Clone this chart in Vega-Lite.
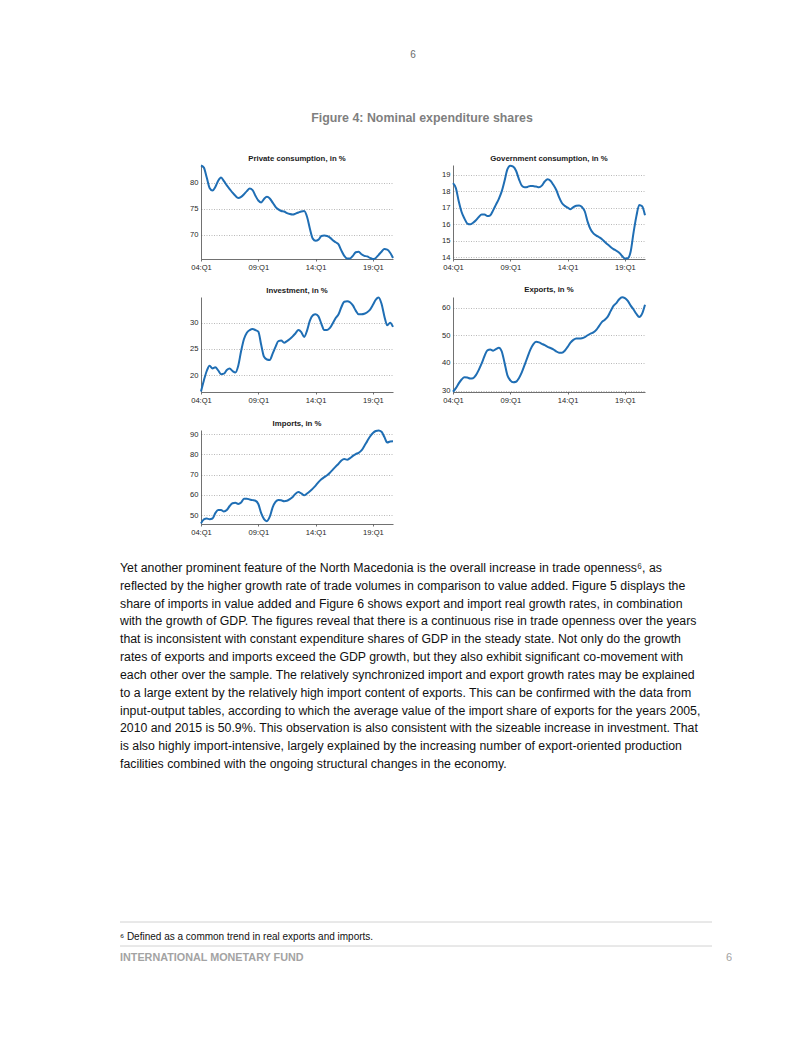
{
  "$schema": "https://vega.github.io/schema/vega-lite/v6.json",
  "padding": {"left": 119, "top": 0, "right": 0, "bottom": 0},
  "background": "white",
  "spacing": 15,
  "datasets": {
    "q": [
      {"t":2004,"pc":83.3,"gc":18.5,"inv":16.9,"exp":29.6,"imp":45.9},
      {"t":2004.25,"pc":82.9,"gc":18.2,"inv":19.0,"exp":30.9,"imp":47.9},
      {"t":2004.5,"pc":81.0,"gc":17.4,"inv":20.8,"exp":32.6,"imp":48.3},
      {"t":2004.75,"pc":79.0,"gc":16.75,"inv":21.8,"exp":34.0,"imp":48.0},
      {"t":2005,"pc":78.5,"gc":16.35,"inv":21.3,"exp":34.8,"imp":48.3},
      {"t":2005.25,"pc":79.2,"gc":16.05,"inv":21.5,"exp":34.7,"imp":51.0},
      {"t":2005.5,"pc":80.4,"gc":16.0,"inv":20.9,"exp":34.4,"imp":52.5},
      {"t":2005.75,"pc":81.0,"gc":16.1,"inv":20.2,"exp":34.5,"imp":52.5},
      {"t":2006,"pc":80.3,"gc":16.25,"inv":20.3,"exp":35.6,"imp":51.8},
      {"t":2006.25,"pc":79.5,"gc":16.45,"inv":21.0,"exp":37.5,"imp":52.5},
      {"t":2006.5,"pc":78.8,"gc":16.6,"inv":21.3,"exp":39.8,"imp":54.5},
      {"t":2006.75,"pc":78.1,"gc":16.6,"inv":20.8,"exp":42.5,"imp":55.9},
      {"t":2007,"pc":77.5,"gc":16.5,"inv":20.5,"exp":44.5,"imp":56.1},
      {"t":2007.25,"pc":77.1,"gc":16.55,"inv":21.8,"exp":44.8,"imp":55.5},
      {"t":2007.5,"pc":77.3,"gc":16.85,"inv":24.6,"exp":44.4,"imp":56.2},
      {"t":2007.75,"pc":77.8,"gc":17.2,"inv":26.9,"exp":45.0,"imp":58.1},
      {"t":2008,"pc":78.4,"gc":17.55,"inv":28.1,"exp":45.5,"imp":58.1},
      {"t":2008.25,"pc":78.9,"gc":18.0,"inv":28.6,"exp":44.2,"imp":57.7},
      {"t":2008.5,"pc":78.6,"gc":18.65,"inv":28.8,"exp":40.0,"imp":57.4},
      {"t":2008.75,"pc":77.5,"gc":19.35,"inv":28.6,"exp":35.5,"imp":57.1},
      {"t":2009,"pc":76.6,"gc":19.55,"inv":28.3,"exp":33.7,"imp":55.5},
      {"t":2009.25,"pc":76.2,"gc":19.5,"inv":25.8,"exp":33.0,"imp":51.0},
      {"t":2009.5,"pc":76.9,"gc":19.25,"inv":23.5,"exp":33.2,"imp":48.0},
      {"t":2009.75,"pc":77.3,"gc":18.75,"inv":23.0,"exp":34.5,"imp":47.0},
      {"t":2010,"pc":77.0,"gc":18.35,"inv":22.9,"exp":36.6,"imp":49.2},
      {"t":2010.25,"pc":76.2,"gc":18.25,"inv":24.1,"exp":39.3,"imp":53.8},
      {"t":2010.5,"pc":75.4,"gc":18.27,"inv":25.4,"exp":42.1,"imp":56.5},
      {"t":2010.75,"pc":74.9,"gc":18.33,"inv":26.5,"exp":44.8,"imp":57.5},
      {"t":2011,"pc":74.6,"gc":18.32,"inv":26.6,"exp":46.7,"imp":57.3},
      {"t":2011.25,"pc":74.5,"gc":18.3,"inv":26.2,"exp":47.6,"imp":56.9},
      {"t":2011.5,"pc":74.2,"gc":18.25,"inv":26.5,"exp":47.4,"imp":57.1},
      {"t":2011.75,"pc":74.0,"gc":18.35,"inv":26.9,"exp":46.9,"imp":57.9},
      {"t":2012,"pc":73.9,"gc":18.6,"inv":27.4,"exp":46.4,"imp":59.0},
      {"t":2012.25,"pc":74.1,"gc":18.74,"inv":28.0,"exp":45.8,"imp":60.6},
      {"t":2012.5,"pc":74.3,"gc":18.65,"inv":28.6,"exp":45.4,"imp":61.4},
      {"t":2012.75,"pc":74.5,"gc":18.4,"inv":28.2,"exp":44.9,"imp":60.7},
      {"t":2013,"pc":74.6,"gc":18.1,"inv":27.3,"exp":44.2,"imp":59.8},
      {"t":2013.25,"pc":73.5,"gc":17.65,"inv":28.5,"exp":43.7,"imp":60.7},
      {"t":2013.5,"pc":71.2,"gc":17.3,"inv":30.4,"exp":43.7,"imp":61.8},
      {"t":2013.75,"pc":69.3,"gc":17.12,"inv":31.4,"exp":44.4,"imp":63.1},
      {"t":2014,"pc":68.9,"gc":17.02,"inv":31.6,"exp":45.8,"imp":64.6},
      {"t":2014.25,"pc":69.1,"gc":16.92,"inv":31.2,"exp":47.3,"imp":66.3},
      {"t":2014.5,"pc":69.8,"gc":17.05,"inv":29.8,"exp":48.3,"imp":67.7},
      {"t":2014.75,"pc":69.9,"gc":17.13,"inv":28.6,"exp":48.8,"imp":68.8},
      {"t":2015,"pc":69.8,"gc":17.15,"inv":28.6,"exp":48.8,"imp":69.7},
      {"t":2015.25,"pc":69.5,"gc":17.05,"inv":29.0,"exp":48.9,"imp":71.0},
      {"t":2015.5,"pc":69.0,"gc":16.78,"inv":29.9,"exp":49.3,"imp":72.5},
      {"t":2015.75,"pc":68.6,"gc":16.15,"inv":30.9,"exp":50.0,"imp":74.0},
      {"t":2016,"pc":68.2,"gc":15.7,"inv":31.6,"exp":50.6,"imp":75.4},
      {"t":2016.25,"pc":67.0,"gc":15.45,"inv":33.0,"exp":51.0,"imp":77.0},
      {"t":2016.5,"pc":66.0,"gc":15.32,"inv":34.0,"exp":51.9,"imp":77.7},
      {"t":2016.75,"pc":65.5,"gc":15.22,"inv":34.1,"exp":53.4,"imp":77.4},
      {"t":2017,"pc":65.5,"gc":15.1,"inv":33.9,"exp":54.8,"imp":78.2},
      {"t":2017.25,"pc":66.0,"gc":14.93,"inv":33.3,"exp":55.6,"imp":79.3},
      {"t":2017.5,"pc":66.7,"gc":14.78,"inv":32.3,"exp":56.7,"imp":80.2},
      {"t":2017.75,"pc":66.8,"gc":14.63,"inv":31.6,"exp":58.7,"imp":80.8},
      {"t":2018,"pc":66.3,"gc":14.5,"inv":31.6,"exp":60.6,"imp":82.0},
      {"t":2018.25,"pc":66.0,"gc":14.4,"inv":31.7,"exp":61.6,"imp":84.2},
      {"t":2018.5,"pc":65.9,"gc":14.28,"inv":32.0,"exp":63.0,"imp":86.6},
      {"t":2018.75,"pc":65.6,"gc":14.08,"inv":32.5,"exp":63.7,"imp":88.9},
      {"t":2019,"pc":65.4,"gc":13.93,"inv":33.4,"exp":63.4,"imp":90.6},
      {"t":2019.25,"pc":65.6,"gc":13.95,"inv":34.4,"exp":62.4,"imp":91.6},
      {"t":2019.5,"pc":66.2,"gc":14.35,"inv":34.8,"exp":60.7,"imp":91.9},
      {"t":2019.75,"pc":66.8,"gc":15.5,"inv":33.6,"exp":59.3,"imp":91.2},
      {"t":2020,"pc":67.3,"gc":16.5,"inv":31.2,"exp":57.7,"imp":88.6},
      {"t":2020.25,"pc":67.2,"gc":17.18,"inv":29.5,"exp":56.6,"imp":85.9},
      {"t":2020.5,"pc":66.6,"gc":17.1,"inv":30.0,"exp":57.8,"imp":86.4},
      {"t":2020.75,"pc":65.6,"gc":16.55,"inv":29.2,"exp":61.0,"imp":86.5}
    ]
  },
  "vconcat": [
    {
      "width": 592,
      "height": 139,
      "layer": [
        {
          "data": {"values": [{"k": "page", "txt": "6"}]},
          "mark": {"type": "text", "fontSize": 10, "color": "#6b6b6b", "dx": -3},
          "encoding": {
            "y": {"field": "k", "type": "nominal", "scale": {"type": "point", "domain": ["page", "fig"], "range": [55, 118], "padding": 0}, "axis": null},
            "text": {"field": "txt"}
          }
        },
        {
          "data": {"values": [{"k": "fig", "txt": "Figure 4: Nominal expenditure shares"}]},
          "mark": {"type": "text", "fontSize": 12.4, "fontWeight": "bold", "color": "#7f7f7f", "dx": 6},
          "encoding": {
            "y": {"field": "k", "type": "nominal", "scale": {"type": "point", "domain": ["page", "fig"], "range": [55, 118], "padding": 0}, "axis": null},
            "text": {"field": "txt"}
          }
        }
      ]
    },
    {
      "hconcat": [
        {"width": 21, "height": 94, "data": {"values": []}, "mark": "point"},
        {
          "width": 192, "height": 94, "data": {"name": "q"},
          "title": "Private consumption, in %",
          "mark": {"type": "line", "color": "#1f6eb4", "strokeWidth": 2, "interpolate": "monotone"},
          "encoding": {
            "x": {"field": "t", "type": "quantitative", "scale": {"domain": [2004, 2020.75], "nice": false, "zero": false}, "axis": {"values": [2004, 2009, 2014, 2019], "labelExpr": "substring(toString(datum.value), 2, 4) + ':Q1'", "title": null, "labelFlush": false}},
            "y": {"field": "pc", "type": "quantitative", "scale": {"domain": [65.4, 83.4], "nice": false, "zero": false}, "axis": {"values": [70, 75, 80], "title": null}}
          }
        },
        {
          "width": 192, "height": 94, "data": {"name": "q"},
          "title": "Government consumption, in %",
          "mark": {"type": "line", "color": "#1f6eb4", "strokeWidth": 2, "interpolate": "monotone"},
          "encoding": {
            "x": {"field": "t", "type": "quantitative", "scale": {"domain": [2004, 2020.75], "nice": false, "zero": false}, "axis": {"values": [2004, 2009, 2014, 2019], "labelExpr": "substring(toString(datum.value), 2, 4) + ':Q1'", "title": null, "labelFlush": false}},
            "y": {"field": "gc", "type": "quantitative", "scale": {"domain": [13.9, 19.6], "nice": false, "zero": false}, "axis": {"values": [14, 15, 16, 17, 18, 19], "title": null}}
          }
        }
      ],
      "spacing": 60,
      "bounds": "flush"
    },
    {
      "hconcat": [
        {"width": 21, "height": 95, "data": {"values": []}, "mark": "point"},
        {
          "width": 192, "height": 95, "data": {"name": "q"},
          "title": "Investment, in %",
          "mark": {"type": "line", "color": "#1f6eb4", "strokeWidth": 2, "interpolate": "monotone"},
          "encoding": {
            "x": {"field": "t", "type": "quantitative", "scale": {"domain": [2004, 2020.75], "nice": false, "zero": false}, "axis": {"values": [2004, 2009, 2014, 2019], "labelExpr": "substring(toString(datum.value), 2, 4) + ':Q1'", "title": null, "labelFlush": false}},
            "y": {"field": "inv", "type": "quantitative", "scale": {"domain": [16.8, 34.9], "nice": false, "zero": false}, "axis": {"values": [20, 25, 30], "title": null}}
          }
        },
        {
          "width": 192, "height": 95, "data": {"name": "q"},
          "title": "Exports, in %",
          "mark": {"type": "line", "color": "#1f6eb4", "strokeWidth": 2, "interpolate": "monotone"},
          "encoding": {
            "x": {"field": "t", "type": "quantitative", "scale": {"domain": [2004, 2020.75], "nice": false, "zero": false}, "axis": {"values": [2004, 2009, 2014, 2019], "labelExpr": "substring(toString(datum.value), 2, 4) + ':Q1'", "title": null, "labelFlush": false}},
            "y": {"field": "exp", "type": "quantitative", "scale": {"domain": [29.5, 63.8], "nice": false, "zero": false}, "axis": {"values": [30, 40, 50, 60], "title": null}}
          }
        }
      ],
      "spacing": 60,
      "bounds": "flush"
    },
    {
      "hconcat": [
        {"width": 21, "height": 94, "data": {"values": []}, "mark": "point"},
        {
          "width": 192, "height": 94, "data": {"name": "q"},
          "title": "Imports, in %",
          "mark": {"type": "line", "color": "#1f6eb4", "strokeWidth": 2, "interpolate": "monotone"},
          "encoding": {
            "x": {"field": "t", "type": "quantitative", "scale": {"domain": [2004, 2020.75], "nice": false, "zero": false}, "axis": {"values": [2004, 2009, 2014, 2019], "labelExpr": "substring(toString(datum.value), 2, 4) + ':Q1'", "title": null, "labelFlush": false}},
            "y": {"field": "imp", "type": "quantitative", "scale": {"domain": [45.6, 92.1], "nice": false, "zero": false}, "axis": {"values": [50, 60, 70, 80, 90], "title": null}}
          }
        }
      ],
      "spacing": 60,
      "bounds": "flush"
    },
    {
      "width": 592,
      "height": 230,
      "data": {"values": [
        {"line": 1, "txt": "Yet another prominent feature of the North Macedonia is the overall increase in trade openness⁶, as"},
        {"line": 2, "txt": "reflected by the higher growth rate of trade volumes in comparison to value added. Figure 5 displays the"},
        {"line": 3, "txt": "share of imports in value added and Figure 6 shows export and import real growth rates, in combination"},
        {"line": 4, "txt": "with the growth of GDP. The figures reveal that there is a continuous rise in trade openness over the years"},
        {"line": 5, "txt": "that is inconsistent with constant expenditure shares of GDP in the steady state. Not only do the growth"},
        {"line": 6, "txt": "rates of exports and imports exceed the GDP growth, but they also exhibit significant co-movement with"},
        {"line": 7, "txt": "each other over the sample. The relatively synchronized import and export growth rates may be explained"},
        {"line": 8, "txt": "to a large extent by the relatively high import content of exports. This can be confirmed with the data from"},
        {"line": 9, "txt": "input-output tables, according to which the average value of the import share of exports for the years 2005,"},
        {"line": 10, "txt": "2010 and 2015 is 50.9%. This observation is also consistent with the sizeable increase in investment. That"},
        {"line": 11, "txt": "is also highly import-intensive, largely explained by the increasing number of export-oriented production"},
        {"line": 12, "txt": "facilities combined with the ongoing structural changes in the economy."}
      ]},
      "mark": {"type": "text", "align": "left", "fontSize": 12.3, "color": "#111111"},
      "encoding": {
        "x": {"datum": 0, "type": "quantitative", "scale": {"domain": [0, 1]}, "axis": null},
        "y": {"field": "line", "type": "quantitative", "scale": {"domain": [1, 12], "range": [17, 213]}, "axis": null},
        "text": {"field": "txt"}
      }
    },
    {
      "width": 592,
      "height": 175,
      "layer": [
        {
          "data": {"values": [{"k": "r1"}, {"k": "r2"}]},
          "mark": {"type": "rule", "color": "#d2d2d2", "strokeWidth": 1},
          "encoding": {
            "y": {"field": "k", "type": "nominal", "scale": {"type": "point", "domain": ["r1", "note", "r2", "foot"], "range": [126, 162], "padding": 0}, "axis": null}
          }
        },
        {
          "data": {"values": [{"k": "note", "txt": "⁶ Defined as a common trend in real exports and imports."}]},
          "mark": {"type": "text", "align": "left", "fontSize": 10, "color": "#111111", "dy": 3},
          "encoding": {
            "x": {"datum": 0, "type": "quantitative", "scale": {"domain": [0, 1]}, "axis": null},
            "y": {"field": "k", "type": "nominal", "scale": {"type": "point", "domain": ["r1", "note", "r2", "foot"], "range": [126, 162], "padding": 0}, "axis": null},
            "text": {"field": "txt"}
          }
        },
        {
          "data": {"values": [{"k": "foot", "txt": "INTERNATIONAL MONETARY FUND"}]},
          "mark": {"type": "text", "align": "left", "fontSize": 10.8, "fontWeight": "bold", "color": "#a3a3a3"},
          "encoding": {
            "x": {"datum": 0, "type": "quantitative", "scale": {"domain": [0, 1]}, "axis": null},
            "y": {"field": "k", "type": "nominal", "scale": {"type": "point", "domain": ["r1", "note", "r2", "foot"], "range": [126, 162], "padding": 0}, "axis": null},
            "text": {"field": "txt"}
          }
        },
        {
          "data": {"values": [{"k": "foot", "txt": "6"}]},
          "mark": {"type": "text", "align": "right", "fontSize": 11, "color": "#a3a3a3", "dx": 20},
          "encoding": {
            "x": {"datum": 1, "type": "quantitative", "scale": {"domain": [0, 1]}, "axis": null},
            "y": {"field": "k", "type": "nominal", "scale": {"type": "point", "domain": ["r1", "note", "r2", "foot"], "range": [126, 162], "padding": 0}, "axis": null},
            "text": {"field": "txt"}
          }
        }
      ]
    }
  ],
  "config": {
    "view": {"stroke": null},
    "font": "Liberation Sans",
    "text": {"font": "Liberation Sans"},
    "title": {"font": "Liberation Sans", "fontSize": 7.8, "fontWeight": "bold", "color": "#1a1a1a", "anchor": "middle", "offset": -1},
    "axis": {"labelFont": "Liberation Sans", "labelFontSize": 7.6, "labelColor": "#262626", "domainColor": "#4d4d4d", "domainWidth": 0.8, "tickColor": "#4d4d4d", "tickWidth": 0.8, "gridColor": "#8a8a8a", "gridDash": [1, 1.5], "gridWidth": 0.6},
    "axisX": {"tickSize": 2, "labelPadding": 2, "grid": false},
    "axisY": {"ticks": false, "labelPadding": 3, "grid": true}
  }
}
